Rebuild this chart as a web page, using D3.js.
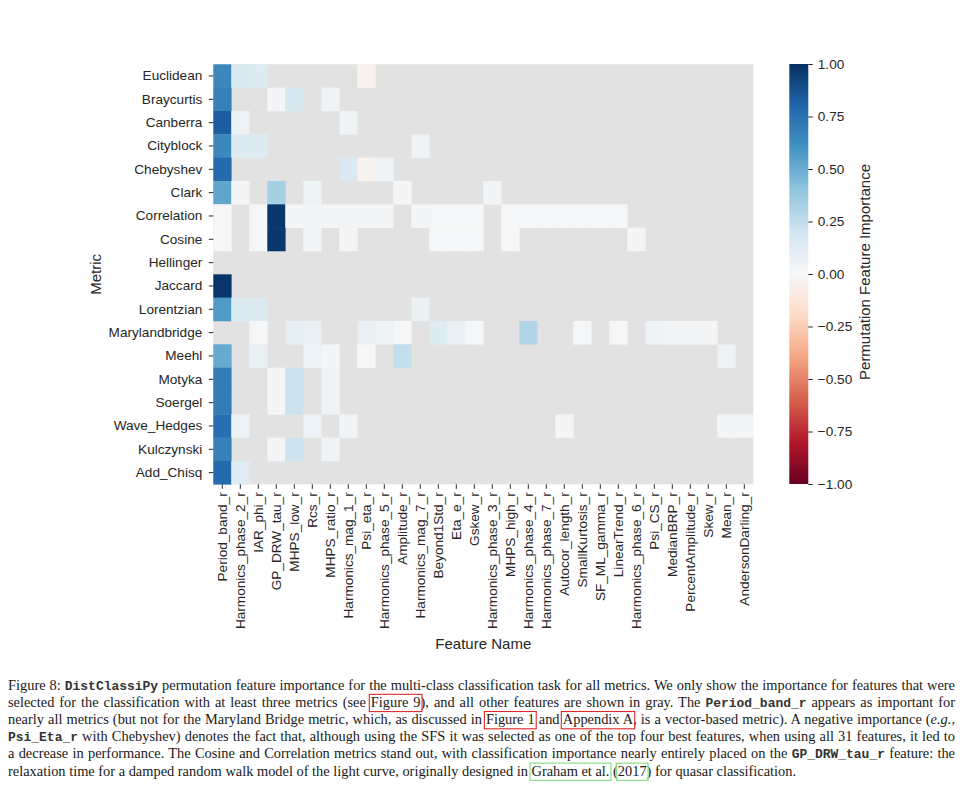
<!DOCTYPE html>
<html><head><meta charset="utf-8">
<script src="https://cdn.jsdelivr.net/npm/d3@7"></script>
<style>
html,body{margin:0;padding:0;background:#fff;}
svg{display:block;}
</style></head>
<body>
<svg id="chart" width="964" height="802"></svg>
<script>
// ---------------- data ----------------
const metrics = ["Euclidean","Braycurtis","Canberra","Cityblock","Chebyshev","Clark","Correlation","Cosine","Hellinger","Jaccard","Lorentzian","Marylandbridge","Meehl","Motyka","Soergel","Wave_Hedges","Kulczynski","Add_Chisq"];

const features = ["Period_band_r","Harmonics_phase_2_r","IAR_phi_r","GP_DRW_tau_r","MHPS_low_r","Rcs_r","MHPS_ratio_r","Harmonics_mag_1_r","Psi_eta_r","Harmonics_phase_5_r",
  "Amplitude_r","Harmonics_mag_7_r","Beyond1Std_r","Eta_e_r","Gskew_r","Harmonics_phase_3_r","MHPS_high_r","Harmonics_phase_4_r","Harmonics_phase_7_r","Autocor_length_r",
  "SmallKurtosis_r","SF_ML_gamma_r","LinearTrend_r","Harmonics_phase_6_r","Psi_CS_r","MedianBRP_r","PercentAmplitude_r","Skew_r","Mean_r","AndersonDarling_r"];

const N = null; // feature not selected -> shown gray
const importance = [
  /* Euclidean */      [0.65,0.15,0.13,N,N,N,N,N,-0.03,N,  N,N,N,N,N,N,N,N,N,N,  N,N,N,N,N,N,N,N,N,N],
  /* Braycurtis */     [0.68,N,N,0.02,0.17,N,0.05,N,N,N,  N,N,N,N,N,N,N,N,N,N,  N,N,N,N,N,N,N,N,N,N],
  /* Canberra */       [0.83,0.06,N,N,N,N,N,0.05,N,N,  N,N,N,N,N,N,N,N,N,N,  N,N,N,N,N,N,N,N,N,N],
  /* Cityblock */      [0.65,0.13,0.13,N,N,N,N,N,N,N,  N,0.05,N,N,N,N,N,N,N,N,  N,N,N,N,N,N,N,N,N,N],
  /* Chebyshev */      [0.78,N,N,N,N,N,N,0.15,-0.03,0.03,  N,N,N,N,N,N,N,N,N,N,  N,N,N,N,N,N,N,N,N,N],
  /* Clark */          [0.53,0.02,N,0.33,N,0.05,N,N,N,N,  0.02,N,N,N,N,0.03,N,N,N,N,  N,N,N,N,N,N,N,N,N,N],
  /* Correlation */    [0.01,N,0.01,0.97,0.02,0.02,0.02,0.02,0.02,0.02,  N,0.02,0.01,0.01,0.01,N,0.01,0.01,0.01,0.01,  0.01,0.01,0.01,N,N,N,N,N,N,N],
  /* Cosine */         [0.01,N,0.01,0.97,N,0.02,N,0.02,N,N,  N,N,0.01,0.01,0.01,N,0.01,N,N,N,  N,N,N,0.02,N,N,N,N,N,N],
  /* Hellinger */      [N,N,N,N,N,N,N,N,N,N,  N,N,N,N,N,N,N,N,N,N,  N,N,N,N,N,N,N,N,N,N],
  /* Jaccard */        [0.98,N,N,N,N,N,N,N,N,N,  N,N,N,N,N,N,N,N,N,N,  N,N,N,N,N,N,N,N,N,N],
  /* Lorentzian */     [0.57,0.14,0.14,N,N,N,N,N,N,N,  N,0.07,N,N,N,N,N,N,N,N,  N,N,N,N,N,N,N,N,N,N],
  /* Marylandbridge */ [N,N,0.01,N,0.09,0.08,N,N,0.08,0.04,  0.01,N,0.13,0.07,0.01,N,N,0.3,N,N,  0.01,N,0.01,N,0.05,0.02,0.02,0.02,N,N],
  /* Meehl */          [0.51,N,0.08,N,N,0.06,0.02,N,0.01,N,  0.24,N,N,N,N,N,N,N,N,N,  N,N,N,N,N,N,N,N,0.05,N],
  /* Motyka */         [0.7,N,N,0.02,0.22,N,0.04,N,N,N,  N,N,N,N,N,N,N,N,N,N,  N,N,N,N,N,N,N,N,N,N],
  /* Soergel */        [0.7,N,N,0.02,0.22,N,0.04,N,N,N,  N,N,N,N,N,N,N,N,N,N,  N,N,N,N,N,N,N,N,N,N],
  /* Wave_Hedges */    [0.76,0.06,N,N,N,0.06,N,0.03,N,N,  N,N,N,N,N,N,N,N,N,0.02,  N,N,N,N,N,N,N,N,0.02,0.02],
  /* Kulczynski */     [0.68,N,N,0.02,0.21,N,0.04,N,N,N,  N,N,N,N,N,N,N,N,N,N,  N,N,N,N,N,N,N,N,N,N],
  /* Add_Chisq */      [0.78,0.12,N,N,N,N,N,N,N,N,  N,N,N,N,N,N,N,N,N,N,  N,N,N,N,N,N,N,N,N,N]
];

const colorbarTicks = [-1,-0.75,-0.5,-0.25,0,0.25,0.5,0.75,1];
const rdbuColors = ["#67001f","#b2182b","#d6604d","#f4a582","#fddbc7","#f7f7f7","#d1e5f0","#92c5de","#4393c3","#2166ac","#053061"];

const captionLines = [
  [["Figure 8: "],["DistClassiPy","mono"],[" permutation feature importance for the multi-class classification task for all metrics. We only show the importance for features that were"]],
  [["selected for the classification with at least three metrics (see "],["Figure 9","","red"],["), and all other features are shown in gray. The "],["Period_band_r","mono"],[" appears as important for"]],
  [["nearly all metrics (but not for the Maryland Bridge metric, which, as discussed in "],["Figure 1","","red"],[" and "],["Appendix A","","red"],[", is a vector-based metric). A negative importance ("],["e.g.,","it"]],
  [["Psi_Eta_r","mono"],[" with Chebyshev) denotes the fact that, although using the SFS it was selected as one of the top four best features, when using all 31 features, it led to"]],
  [["a decrease in performance. The Cosine and Correlation metrics stand out, with classification importance nearly entirely placed on the "],["GP_DRW_tau_r","mono"],[" feature: the"]],
  [["relaxation time for a damped random walk model of the light curve, originally designed in "],["Graham et al.","","green"],[" ("],["2017","","green"],[") for quasar classification."]]
];

// ---------------- drawing ----------------
const svg = d3.select("#chart");
const sans = "'Liberation Sans', Arial, Helvetica, sans-serif";
const ink = "#262626";

const x = d3.scaleBand().domain(features).range([213.3, 753.3]);
const y = d3.scaleBand().domain(metrics).range([64.3, 484.3]);
const color = d3.scaleLinear()
  .domain(d3.range(11).map(i => -1 + 0.2 * i))
  .range(rdbuColors).interpolate(d3.interpolateRgb).clamp(true);

// gray background for unselected features
svg.append("rect")
  .attr("x", x.range()[0]).attr("y", y.range()[0])
  .attr("width", x.range()[1] - x.range()[0]).attr("height", y.range()[1] - y.range()[0])
  .attr("fill", "#e2e2e2");

const cells = [];
importance.forEach((row, i) => row.forEach((v, j) => { if (v !== null) cells.push({m: metrics[i], f: features[j], v}); }));

svg.append("g").selectAll("rect").data(cells).join("rect")
  .attr("x", d => x(d.f)).attr("y", d => y(d.m))
  .attr("width", x.bandwidth() + 0.3).attr("height", y.bandwidth() + 0.3)
  .attr("fill", d => color(d.v));

// y axis
const gy = svg.append("g").attr("transform", `translate(${x.range()[0]},0)`)
  .call(d3.axisLeft(y).tickSize(4.5).tickPadding(6.5));
gy.select(".domain").remove();
gy.attr("font-family", sans).attr("font-size", 13.6).style("color", ink);

// x axis
const gx = svg.append("g").attr("transform", `translate(0,${y.range()[1]})`)
  .call(d3.axisBottom(x).tickSize(4.5).tickPadding(3));
gx.select(".domain").remove();
gx.attr("font-family", sans).attr("font-size", 13.6).style("color", ink);
gx.selectAll("text").attr("transform", "rotate(-90)").attr("x", -8).attr("y", 0).attr("dy", "0.35em").attr("text-anchor", "end");

// axis titles
svg.append("text").attr("x", 483.3).attr("y", 648.5).attr("text-anchor", "middle")
  .attr("font-family", sans).attr("font-size", 15).attr("fill", ink).text("Feature Name");
svg.append("text").attr("transform", "translate(95,274.3) rotate(-90)").attr("text-anchor", "middle")
  .attr("dominant-baseline", "central").attr("font-family", sans).attr("font-size", 15).attr("fill", ink).text("Metric");

// colorbar
const cbX = 789.3, cbW = 19;
const cScale = d3.scaleLinear().domain([-1, 1]).range([484, 64]);
const defs = svg.append("defs");
const grad = defs.append("linearGradient").attr("id", "cbgrad").attr("x1", 0).attr("y1", 1).attr("x2", 0).attr("y2", 0);
d3.range(0, 1.0001, 0.02).forEach(t => {
  grad.append("stop").attr("offset", t).attr("stop-color", color(-1 + 2 * t));
});
svg.append("rect").attr("x", cbX).attr("y", cScale(1)).attr("width", cbW).attr("height", cScale(-1) - cScale(1))
  .attr("fill", "url(#cbgrad)");
const gc = svg.append("g").attr("transform", `translate(${cbX + cbW},0)`)
  .call(d3.axisRight(cScale).tickValues(colorbarTicks).tickFormat(d3.format(".2f")).tickSize(4.5).tickPadding(5));
gc.select(".domain").remove();
gc.attr("font-family", sans).attr("font-size", 13.6).style("color", ink);
svg.append("text").attr("transform", "translate(864,272) rotate(-90)").attr("text-anchor", "middle")
  .attr("dominant-baseline", "central").attr("font-family", sans).attr("font-size", 15).attr("fill", ink)
  .text("Permutation Feature Importance");

// caption
const capX = 8, capW = 947, capY0 = 689.5, capDy = 17.2;
const cap = svg.append("g").attr("font-family", "'Liberation Serif','Times New Roman',Times,serif").attr("fill", "#1a1a1a");
let fs = 14;
const lineEls = captionLines.map((segs, i) => {
  const t = cap.append("text").attr("x", capX).attr("y", capY0 + i * capDy).attr("font-size", fs);
  segs.forEach(s => {
    const ts = t.append("tspan").text(s[0]);
    if (s[1] === "mono") ts.attr("font-family", "'Liberation Mono','DejaVu Sans Mono',monospace").attr("font-size", "0.9em").attr("font-weight", "bold").attr("fill", "#333");
    if (s[1] === "it") ts.attr("font-style", "italic");
    if (s[2]) ts.attr("data-box", s[2]);
  });
  return t;
});
const natural6 = lineEls[5].node().getComputedTextLength();
fs = 14 * 789 / natural6;
lineEls.forEach(t => t.attr("font-size", fs));
lineEls.forEach((t, i) => {
  if (i === 5) return;
  const nat = t.node().getComputedTextLength();
  const spaces = (t.text().match(/ /g) || []).length;
  t.attr("word-spacing", (capW - nat) / spaces);
});
lineEls.forEach((t, i) => {
  const baseY = capY0 + i * capDy;
  t.selectAll("tspan").each(function() {
    const kind = this.getAttribute("data-box");
    if (!kind) return;
    const n = this.getNumberOfChars();
    const x1 = this.getStartPositionOfChar(0).x;
    const x2 = this.getEndPositionOfChar(n - 1).x;
    cap.append("rect").attr("x", x1 - 1.5).attr("y", baseY - fs * 0.86).attr("width", x2 - x1 + 3).attr("height", fs * 1.2)
      .attr("fill", "none").attr("stroke", kind === "red" ? "#e0262a" : "#7fdc7f").attr("stroke-width", 1.1);
  });
});
</script>
</body></html>
